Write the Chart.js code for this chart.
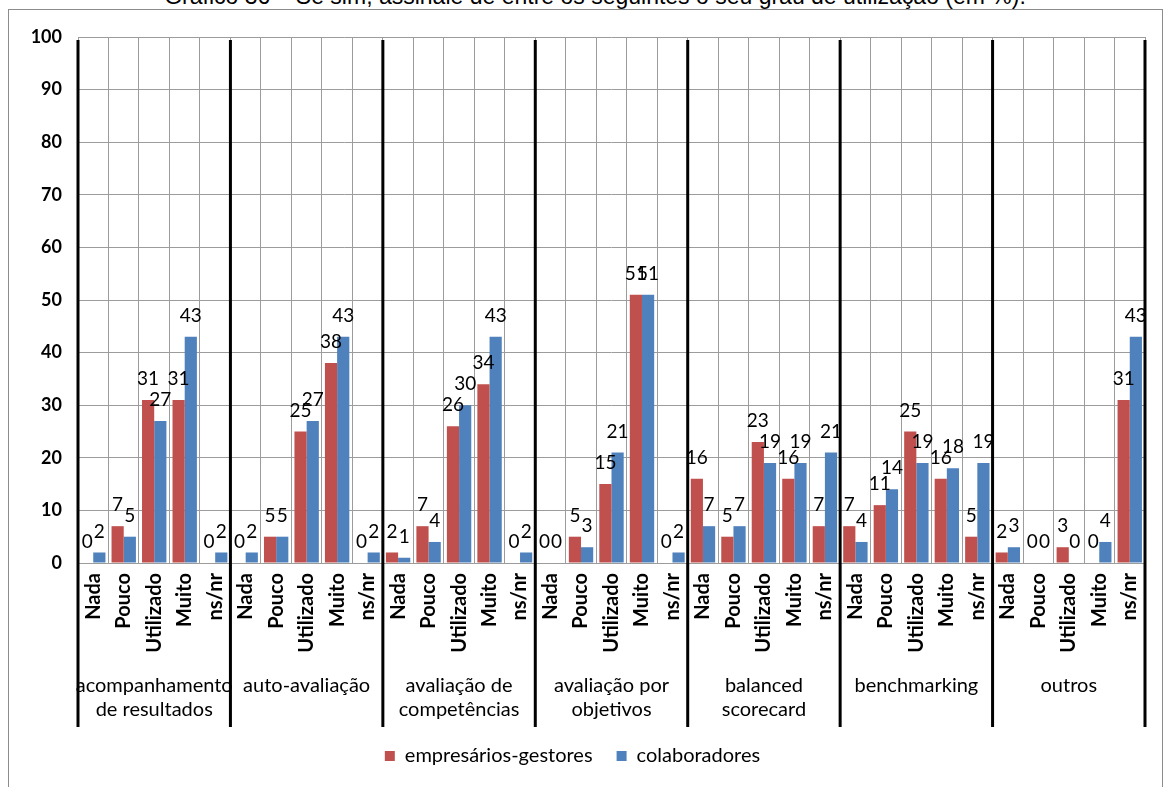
<!DOCTYPE html>
<html lang="pt">
<head>
<meta charset="utf-8">
<title>Grau de utilização</title>
<script src="https://cdn.jsdelivr.net/npm/chart.js@4.4.1/dist/chart.umd.min.js"></script>
<style>
  html, body { margin: 0; padding: 0; background: #fff; overflow: hidden; }
  #wrap { position: relative; width: 1167px; height: 787px; overflow: hidden; }
  #frame { position: absolute; left: 8px; top: 9px; width: 1155px; height: 820px; border: 1px solid #8c8c8c; box-sizing: border-box; }
  #title { position: absolute; left: 0; width: 1190px; top: -17px; text-align: center; line-height: 26px;
           font-family: "Liberation Sans", Arial, sans-serif; font-size: 23px; color: #000; white-space: nowrap; }
  canvas { position: absolute; left: 0; top: 0; }
</style>
</head>
<body>
<div id="wrap">
  <div id="frame"></div>
  <div id="title">Gráfico 36 – Se sim, assinale de entre os seguintes o seu grau de utilização (em %):</div>
  <canvas id="c" width="1167" height="787"></canvas>
</div>
<script>
// Levels of use, repeated within every instrument group
const levels = ["Nada", "Pouco", "Utilizado", "Muito", "ns/nr"];

// Instrument groups (each label may span two lines)
const groups = [
  ["acompanhamento", "de resultados"],
  ["auto-avaliação"],
  ["avaliação de", "competências"],
  ["avaliação por", "objetivos"],
  ["balanced", "scorecard"],
  ["benchmarking"],
  ["outros"]
];

// Percentages per group, in the order of the levels above
const gestores = [
  0, 7, 31, 31, 0,
  0, 5, 25, 38, 0,
  2, 7, 26, 34, 0,
  0, 5, 15, 51, 0,
  16, 5, 23, 16, 7,
  7, 11, 25, 16, 5,
  2, 0, 3, 0, 31
];
const colaboradores = [
  2, 5, 27, 43, 2,
  2, 5, 27, 43, 2,
  1, 4, 30, 43, 2,
  0, 3, 21, 51, 2,
  7, 7, 19, 19, 21,
  4, 14, 19, 18, 19,
  3, 0, 0, 4, 43
];

const yTicks = [0, 10, 20, 30, 40, 50, 60, 70, 80, 90, 100];

const categories = [];
groups.forEach(() => levels.forEach(l => categories.push(l)));

const FONT = "Lato, 'Open Sans', sans-serif";

// Value labels above each bar
const valueLabels = {
  id: "valueLabels",
  afterDatasetsDraw(chart) {
    const ctx = chart.ctx;
    ctx.save();
    ctx.font = "19px " + FONT;
    ctx.fillStyle = "#000";
    ctx.textAlign = "center";
    ctx.textBaseline = "middle";
    chart.data.datasets.forEach((ds, di) => {
      const meta = chart.getDatasetMeta(di);
      meta.data.forEach((bar, i) => {
        ctx.fillText(String(ds.data[i]), bar.x, bar.y - 21);
      });
    });
    ctx.restore();
  }
};

// Heavy separators between instrument groups and the group captions
const groupFrame = {
  id: "groupFrame",
  afterDraw(chart) {
    const ctx = chart.ctx;
    const xs = chart.scales.x;
    const area = chart.chartArea;
    const n = levels.length;
    const bottom = area.bottom + 164;
    const edges = [];
    for (let g = 0; g <= groups.length; g++) {
      const i = g * n;
      let x;
      if (i === 0) x = area.left;
      else if (i >= categories.length) x = area.right;
      else x = (xs.getPixelForValue(i - 1) + xs.getPixelForValue(i)) / 2;
      edges.push(x);
    }
    ctx.save();
    ctx.strokeStyle = "#000";
    ctx.lineWidth = 3;
    edges.forEach(x => {
      ctx.beginPath();
      ctx.moveTo(x, area.top + 3);
      ctx.lineTo(x, bottom);
      ctx.stroke();
    });
    ctx.font = "20px " + FONT;
    ctx.fillStyle = "#000";
    ctx.textAlign = "center";
    ctx.textBaseline = "middle";
    groups.forEach((lines, g) => {
      const cx = (edges[g] + edges[g + 1]) / 2;
      lines.forEach((t, k) => {
        ctx.fillText(t, cx, area.bottom + 123 + k * 24);
      });
    });
    ctx.restore();
  }
};

new Chart(document.getElementById("c"), {
  type: "bar",
  data: {
    labels: categories,
    datasets: [
      { label: "empresários-gestores", data: gestores, backgroundColor: "#C0504D" },
      { label: "colaboradores", data: colaboradores, backgroundColor: "#4F81BD" }
    ]
  },
  options: {
    responsive: false,
    animation: false,
    devicePixelRatio: 1,
    layout: { padding: { top: 37, right: 22, left: 0, bottom: 11 } },
    datasets: { bar: { categoryPercentage: 0.8, barPercentage: 1.0 } },
    plugins: {
      legend: {
        position: "bottom",
        labels: {
          boxWidth: 10, boxHeight: 10, padding: 24, color: "#000",
          font: { family: FONT, size: 20 }
        }
      },
      tooltip: { enabled: false }
    },
    scales: {
      x: {
        grid: { color: "#9c9c9c", lineWidth: 1, drawTicks: false, offset: true },
        border: { color: "#9c9c9c" },
        ticks: {
          autoSkip: false, minRotation: 90, maxRotation: 90, padding: 10,
          color: "#000", font: { family: FONT, size: 20, weight: "bold" }
        },
        afterFit(scale) { scale.height = 159; }
      },
      y: {
        min: 0, max: 100,
        afterBuildTicks(scale) { scale.ticks = yTicks.map(v => ({ value: v })); },
        grid: { color: "#9c9c9c", lineWidth: 1, drawTicks: false },
        border: { display: false },
        ticks: {
          padding: 16, color: "#000",
          font: { family: FONT, size: 18, weight: "bold" }
        },
        afterFit(scale) { scale.width = 78; }
      }
    }
  },
  plugins: [valueLabels, groupFrame]
});
</script>
</body>
</html>
